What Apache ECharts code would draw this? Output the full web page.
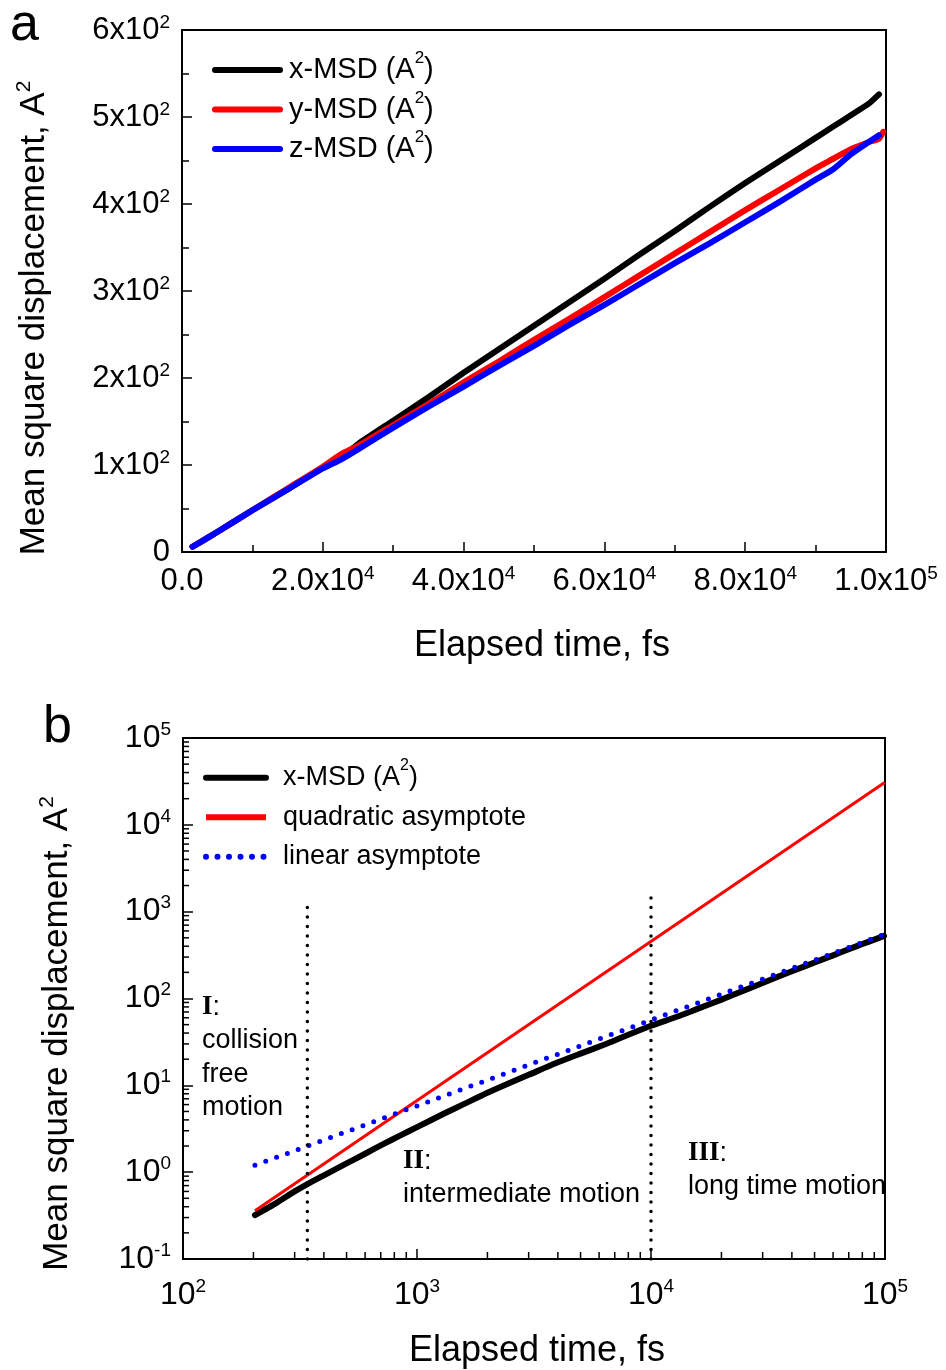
<!DOCTYPE html>
<html><head><meta charset="utf-8">
<script src="https://cdn.jsdelivr.net/npm/echarts@6/dist/echarts.min.js"></script>
<style>html,body{margin:0;padding:0;background:#fff}#c{width:946px;height:1370px}</style>
</head><body><div id="c"></div><script>
// ---------- Panel a data (linear axes) ----------
const timeA = [1500, 5000, 10000, 15000, 20000, 22500, 25000, 30000, 35000, 40000, 45000, 50000, 55000, 60000, 65000, 70000, 75000, 80000, 85000, 90000, 92500, 95000, 97500, 99000];
const xMsdA = [6, 23, 48, 72, 97, 108, 124, 151, 178, 206, 233, 260, 287, 314, 342, 369, 397, 424, 450, 476, 489, 502, 515, 526];
const timeRedA = [1500, 5000, 10000, 15000, 20000, 22500, 25000, 30000, 35000, 40000, 45000, 50000, 55000, 60000, 65000, 70000, 75000, 80000, 85000, 90000, 92500, 95000, 97500, 99000, 99600];
const yMsdA = [6, 23, 48, 73, 98, 112, 122, 146, 170, 195, 219, 244, 268, 293, 318, 343, 368, 393, 417, 441, 452, 463, 471, 475, 483];
const zMsdA = [6, 23, 48, 72, 96, 106, 118, 143, 167, 190, 214, 237, 261, 284, 308, 332, 355, 379, 403, 428, 440, 457, 471, 479];

// ---------- Panel b data (log-log axes) ----------
const timeB = [203, 250, 300, 340, 400, 500, 600, 717, 850, 1000, 1300, 1600, 2000, 2500, 3000, 4000, 5000, 6500, 8000, 10000, 13000, 16000, 20000, 25000, 30000, 40000, 50000, 60000, 70000, 80000, 90000, 99000];
const xMsdB = [0.32, 0.44, 0.60, 0.73, 0.92, 1.26, 1.63, 2.1, 2.65, 3.3, 4.7, 6.15, 8.2, 10.7, 13.2, 18.4, 23.2, 30.3, 38.2, 48.5, 62, 77, 97, 124, 151, 206, 260, 314, 369, 424, 476, 526];
const timeQuad = [203, 100000];
const quadMsd = [0.36, 31000];
const timeLin = [203, 100000];
const linMsd = [1.2, 550];
const regionBounds = [340, 10000];
const regionTops = [1240, 1530];

// ---------- Tick labels / names ----------
const aXTicks = [0, 20000, 40000, 60000, 80000, 100000];
const aXTickLabels = ['0.0', '2.0x10^4', '4.0x10^4', '6.0x10^4', '8.0x10^4', '1.0x10^5'];
const aYTicks = [0, 100, 200, 300, 400, 500, 600];
const aYTickLabels = ['0', '1x10^2', '2x10^2', '3x10^2', '4x10^2', '5x10^2', '6x10^2'];
const bXTicks = [100, 1000, 10000, 100000];
const bXTickLabels = ['10^2', '10^3', '10^4', '10^5'];
const bYTicks = [0.1, 1, 10, 100, 1000, 10000, 100000];
const bYTickLabels = ['10^-1', '10^0', '10^1', '10^2', '10^3', '10^4', '10^5'];
const namesA = ['x-MSD (A^2)', 'y-MSD (A^2)', 'z-MSD (A^2)'];
const namesB = ['x-MSD (A^2)', 'quadratic asymptote', 'linear asymptote'];
const xTitle = 'Elapsed time, fs';
const yTitle = 'Mean square displacement, A^2';

const FONT = "'Liberation Sans', Arial, sans-serif";
const SERIF = "'Liberation Serif', 'Times New Roman', serif";
function sup(str) { return '{n|' + str.replace(/\^(-?\d+)/g, '}{s|$1}{n|') + '}'; }
function rs(fs, lh, sfs, slh, pad) {
  return { n: { fontSize: fs, lineHeight: lh, fontFamily: FONT, color: '#000' },
           s: { fontSize: sfs, lineHeight: slh, verticalAlign: 'top', fontFamily: FONT, color: '#000' },
           p: { width: pad || 0, lineHeight: lh } };
}
function linLabel(ticks, labels) { return v => { const i = ticks.findIndex(t => Math.abs(t - v) < 1e-6 * (Math.abs(t) + 1)); return i < 0 ? '' : sup(labels[i]); }; }
function logLabel(ticks, labels) { return v => { const i = ticks.findIndex(t => Math.abs(Math.log10(t) - Math.log10(v)) < 0.01); return i < 0 ? '' : sup(labels[i]); }; }
const zip = (xs, ys) => xs.map((x, i) => [x, ys[i]]);

const minorXB = []; [100, 1000, 10000].forEach(d => { for (let k = 2; k <= 9; k++) minorXB.push(d * k); });
const minorYB = []; [0.1, 1, 10, 100, 1000, 10000].forEach(d => { for (let k = 2; k <= 9; k++) minorYB.push(d * k); });

const axisLine = { show: true, lineStyle: { color: '#000', width: 2 } };
const tickStyle = { color: '#000', width: 1.5 };

const chart = echarts.init(document.getElementById('c'), null, { renderer: 'canvas' });
chart.setOption({
  backgroundColor: '#fff',
  animation: false,
  grid: [
    { left: 182, top: 30, width: 704, height: 522, show: true, borderColor: '#000', borderWidth: 2, backgroundColor: 'transparent' },
    { left: 183, top: 738, width: 702, height: 524, show: true, borderColor: '#000', borderWidth: 2, backgroundColor: 'transparent' }
  ],
  legend: [
    { left: 212, top: 50, padding: 0, orient: 'vertical', itemWidth: 65, itemHeight: 6, itemGap: 5, selectedMode: false,
      data: namesA, formatter: n => '{p|}' + sup(n),
      textStyle: { rich: rs(29, 40, 17, 24, 4) },
      lineStyle: { width: 6 }, itemStyle: { color: 'transparent', borderWidth: 0, opacity: 0 } },
    { left: 203, top: 758, padding: 0, orient: 'vertical', itemWidth: 60, itemHeight: 6, itemGap: 12.5, selectedMode: false,
      data: namesB, formatter: n => '{p|}' + sup(n),
      textStyle: { rich: rs(27, 39.5, 16, 23, 12) },
      lineStyle: { width: 6 }, itemStyle: { color: 'transparent', borderWidth: 0, opacity: 0 } }
  ],
  xAxis: [
    { gridIndex: 0, type: 'value', min: 0, max: 100000, interval: 20000,
      axisLine, axisTick: { inside: true, length: 10, lineStyle: tickStyle },
      minorTick: { show: true, splitNumber: 2, length: 7, lineStyle: tickStyle },
      splitLine: { show: false }, minorSplitLine: { show: false },
      axisLabel: { margin: 12, formatter: linLabel(aXTicks, aXTickLabels), rich: rs(31, 34, 19, 20) },
      name: xTitle, nameLocation: 'middle', nameGap: 76,
      nameTextStyle: { fontSize: 36, fontFamily: FONT, color: '#000', padding: [0, 0, 0, 16] } },
    { gridIndex: 1, type: 'log', logBase: 10, min: 100, max: 100000, splitNumber: 3,
      axisLine, axisTick: { inside: true, length: 10, lineStyle: tickStyle },
      splitLine: { show: false },
      axisLabel: { margin: 18, formatter: logLabel(bXTicks, bXTickLabels), rich: rs(32, 36, 19, 20) },
      name: xTitle, nameLocation: 'middle', nameGap: 74,
      nameTextStyle: { fontSize: 36, fontFamily: FONT, color: '#000', padding: [0, 0, 0, 6] } }
  ],
  yAxis: [
    { gridIndex: 0, type: 'value', min: 0, max: 600, interval: 100,
      axisLine, axisTick: { inside: true, length: 10, lineStyle: tickStyle },
      minorTick: { show: true, splitNumber: 2, length: 7, lineStyle: tickStyle },
      splitLine: { show: false }, minorSplitLine: { show: false },
      axisLabel: { margin: 12, formatter: linLabel(aYTicks, aYTickLabels), rich: rs(31, 34, 19, 20) },
      name: sup(yTitle), nameLocation: 'middle', nameGap: 128,
      nameTextStyle: { rich: rs(35, 40, 21, 24), padding: [0, 54, 0, 0] } },
    { gridIndex: 1, type: 'log', logBase: 10, min: 0.1, max: 100000, splitNumber: 6,
      axisLine, axisTick: { inside: true, length: 10, lineStyle: tickStyle },
      splitLine: { show: false },
      axisLabel: { margin: 12, formatter: logLabel(bYTicks, bYTickLabels), rich: rs(32, 36, 19, 20) },
      name: sup(yTitle), nameLocation: 'middle', nameGap: 106,
      nameTextStyle: { rich: rs(35, 40, 21, 24), padding: [0, 70, 0, 0] } }
  ],
  series: [
    { name: namesA[0], type: 'line', xAxisIndex: 0, yAxisIndex: 0, data: zip(timeA, xMsdA), symbol: 'none', smooth: 0.2,
      lineStyle: { color: '#000', width: 6, cap: 'round', join: 'round' }, itemStyle: { color: '#000' } },
    { name: namesA[1], type: 'line', xAxisIndex: 0, yAxisIndex: 0, data: zip(timeRedA, yMsdA), symbol: 'none', smooth: 0.2,
      lineStyle: { color: '#ff0000', width: 6, cap: 'round', join: 'round' }, itemStyle: { color: '#ff0000' } },
    { name: namesA[2], type: 'line', xAxisIndex: 0, yAxisIndex: 0, data: zip(timeA, zMsdA), symbol: 'none', smooth: 0.2,
      lineStyle: { color: '#0000ff', width: 6, cap: 'round', join: 'round' }, itemStyle: { color: '#0000ff' } },

    { name: namesB[0], type: 'line', xAxisIndex: 1, yAxisIndex: 1, data: zip(timeB, xMsdB), symbol: 'none', smooth: 0.2,
      lineStyle: { color: '#000', width: 6, cap: 'round', join: 'round' }, itemStyle: { color: '#000' } },
    { name: namesB[1], type: 'line', xAxisIndex: 1, yAxisIndex: 1, data: zip(timeQuad, quadMsd), symbol: 'none',
      lineStyle: { color: '#ff0000', width: 3 }, itemStyle: { color: '#ff0000' } },
    { name: namesB[2], type: 'line', xAxisIndex: 1, yAxisIndex: 1, data: zip(timeLin, linMsd), symbol: 'none',
      lineStyle: { color: '#0000ff', width: 5, type: [0, 11.5], cap: 'round' }, itemStyle: { color: '#0000ff' } },

    { name: 'bound I/II', type: 'line', xAxisIndex: 1, yAxisIndex: 1, symbol: 'none', silent: true,
      data: [[regionBounds[0], 0.1], [regionBounds[0], regionTops[0]]],
      lineStyle: { color: '#000', width: 3.5, type: [0, 9.5], cap: 'round' } },
    { name: 'bound II/III', type: 'line', xAxisIndex: 1, yAxisIndex: 1, symbol: 'none', silent: true,
      data: [[regionBounds[1], 0.1], [regionBounds[1], regionTops[1]]],
      lineStyle: { color: '#000', width: 3.5, type: [0, 9.5], cap: 'round' } },

    { type: 'custom', xAxisIndex: 1, yAxisIndex: 1, silent: true, data: minorXB.map(v => [v, 0.1]),
      renderItem: (params, api) => { const p = api.coord([api.value(0), api.value(1)]);
        return { type: 'line', shape: { x1: p[0], y1: p[1], x2: p[0], y2: p[1] - 7 }, style: { stroke: '#000', lineWidth: 1.5 } }; } },
    { type: 'custom', xAxisIndex: 1, yAxisIndex: 1, silent: true, data: minorYB.map(v => [100, v]),
      renderItem: (params, api) => { const p = api.coord([api.value(0), api.value(1)]);
        return { type: 'line', shape: { x1: p[0], y1: p[1], x2: p[0] + 6, y2: p[1] }, style: { stroke: '#000', lineWidth: 1.5 } }; } }
  ],
  graphic: [
    { type: 'text', left: 10, top: 0, style: { text: 'a', font: '52px ' + FONT, fill: '#000' } },
    { type: 'text', left: 43, top: 702, style: { text: 'b', font: '52px ' + FONT, fill: '#000' } },
    { type: 'text', left: 202, top: 994, style: { text: '{r|I}{n|:}\n{n|collision}\n{n|free}\n{n|motion}',
      rich: { r: { font: 'bold 27px ' + SERIF, lineHeight: 33.5, fill: '#000' }, n: { font: '27px ' + FONT, lineHeight: 33.5, fill: '#000' } } } },
    { type: 'text', left: 403, top: 1148, style: { text: '{r|II}{n|:}\n{n|intermediate motion}',
      rich: { r: { font: 'bold 27px ' + SERIF, lineHeight: 33.5, fill: '#000' }, n: { font: '27px ' + FONT, lineHeight: 33.5, fill: '#000' } } } },
    { type: 'text', left: 688, top: 1140, style: { text: '{r|III}{n|:}\n{n|long time motion}',
      rich: { r: { font: 'bold 27px ' + SERIF, lineHeight: 33.5, fill: '#000' }, n: { font: '27px ' + FONT, lineHeight: 33.5, fill: '#000' } } } }
  ]
});
</script></body></html>
